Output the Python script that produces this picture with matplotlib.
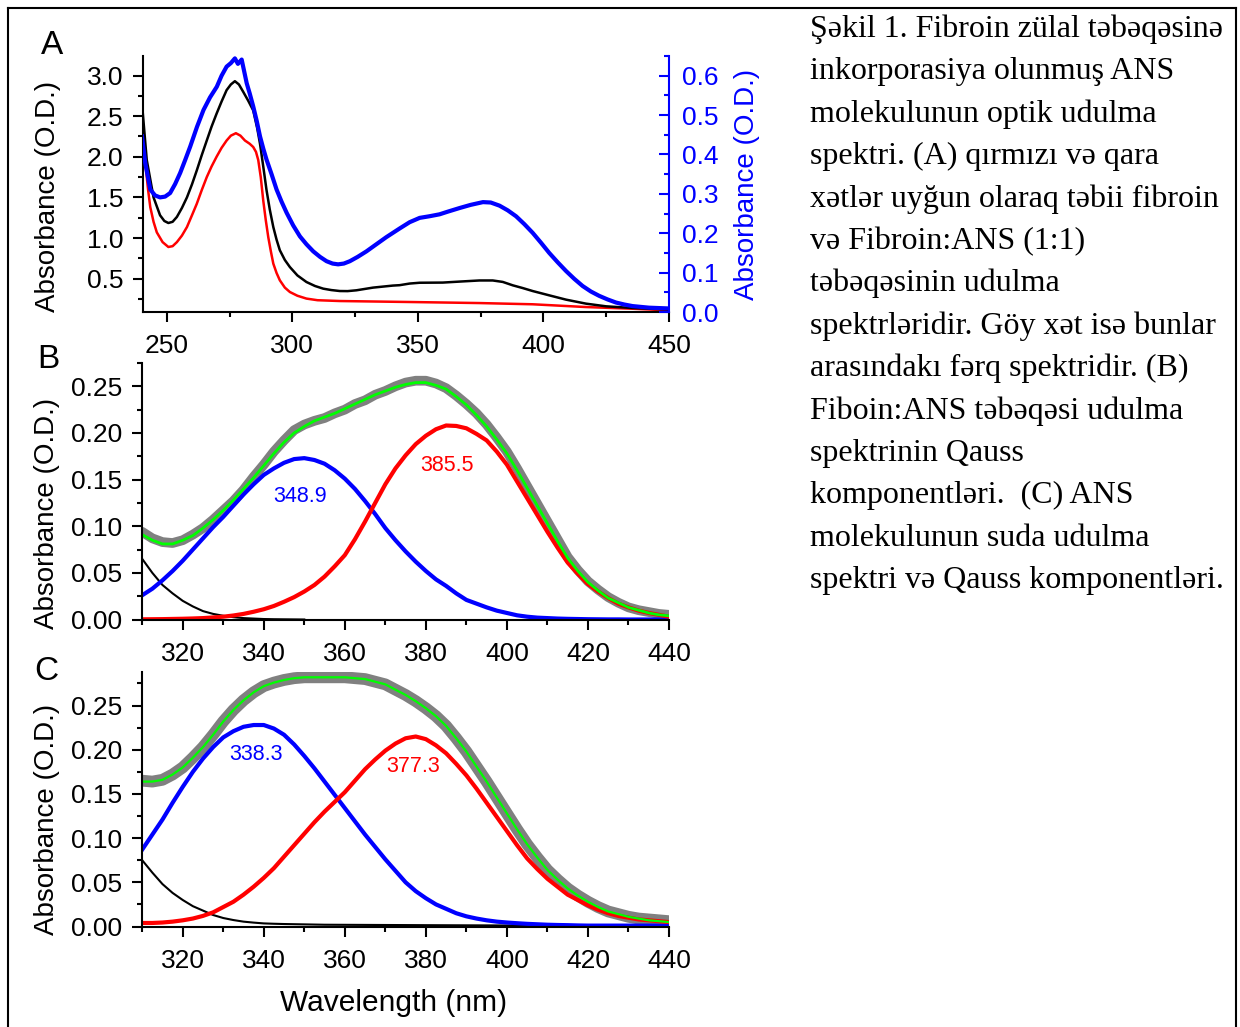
import numpy as np
import matplotlib
matplotlib.use('Agg')
import matplotlib.pyplot as plt
from matplotlib.lines import Line2D
from matplotlib.ticker import MultipleLocator, FormatStrFormatter

plt.rcParams['font.family'] = ['Liberation Sans', 'DejaVu Sans']

# ---------------- panel A : absorption spectra ----------------
wl_a_black = [240, 242, 244.7, 247.3, 249, 250.6, 252.3, 254, 256, 258, 260, 261.9, 263.9,
              265.9, 267.8, 269.8, 271.8, 273.8, 275.5, 277.1, 278.7, 280.4, 282.4, 284.4,
              286, 287.1, 288.4, 289.7, 291, 292.4, 293.7, 295, 297, 299, 302, 305.6, 309,
              312.3, 315.5, 318.9, 322, 325.5, 332.1, 340, 342.7, 346.7, 350.7, 359.9, 367,
              374.5, 379.8, 383.8, 387.8, 391.7, 395.7, 402.3, 409, 416.9, 424.9, 435.5, 450]
abs_a_black = [2.69, 1.96, 1.50, 1.28, 1.21, 1.185, 1.20, 1.26, 1.37, 1.50, 1.66, 1.83, 2.02,
               2.20, 2.37, 2.53, 2.68, 2.82, 2.89, 2.93, 2.89, 2.80, 2.69, 2.57,
               2.35, 2.16, 1.88, 1.59, 1.35, 1.135, 0.98, 0.85, 0.73, 0.643, 0.54, 0.459, 0.41,
               0.377, 0.36, 0.348, 0.347, 0.357, 0.39, 0.415, 0.42, 0.44, 0.45, 0.452, 0.465,
               0.478, 0.478, 0.46, 0.418, 0.385, 0.348, 0.295, 0.242, 0.193, 0.16, 0.139, 0.12]

wl_a_red = [240, 241.5, 242.5, 243.4, 244.7, 246, 248.3, 250.6, 252.3, 254, 256, 258, 260,
            261.9, 263.9, 265.9, 267.8, 269.8, 271.8, 273.8, 275.5, 277.5, 279.3, 281.1, 283,
            284.4, 285.5, 286.4, 287.4, 288.4, 289.4, 290.4, 291.4, 292.4, 293.7, 295, 297,
            299, 302, 305.6, 310, 318.9, 346.7, 374.5, 395.7, 416.9, 435.5, 450]
abs_a_red = [2.6, 1.9, 1.6, 1.38, 1.2, 1.07, 0.95, 0.89, 0.90, 0.95, 1.03, 1.135, 1.28,
             1.42, 1.59, 1.75, 1.88, 2.0, 2.11, 2.20, 2.26, 2.29, 2.26, 2.20, 2.16,
             2.12, 2.06, 1.96, 1.75, 1.46, 1.22, 1.01, 0.84, 0.685, 0.57, 0.48, 0.39,
             0.336, 0.29, 0.255, 0.235, 0.225, 0.213, 0.2, 0.185, 0.151, 0.13, 0.11]

# difference spectrum (right axis)
wl_a_diff = [240.1, 241.4, 243.4, 245.3, 247.3, 249.3, 251.3, 253.3, 255.3, 257.3, 259.3,
             262, 264.6, 267.2, 269.9, 271.8, 273.8, 275.5, 277.1, 278.3, 279.8, 281.8, 283,
             284.4, 285.8, 287.1, 288.4, 289.7, 291.7, 293.7, 295.7, 297.7, 300.3, 303, 305.6,
             308.3, 311, 313.6, 316, 318.2, 320.5, 322.9, 326, 329.5, 333, 337.4, 342.7,
             346.7, 350.7, 354.5, 358.6, 362, 366.6, 371, 375.9, 379, 382.5, 385.8, 389.1,
             392.4, 395.7, 399, 402.3, 405.7, 409, 412.3, 415.6, 418.9, 422.2, 425.5, 428.9,
             432.2, 435.5, 442, 450]
abs_a_diff = [0.446, 0.378, 0.311, 0.296, 0.291, 0.293, 0.302, 0.325, 0.353, 0.386, 0.42,
              0.47, 0.513, 0.545, 0.572, 0.6, 0.623, 0.632, 0.644, 0.63, 0.641, 0.581, 0.555,
              0.522, 0.485, 0.446, 0.415, 0.387, 0.35, 0.311, 0.28, 0.252, 0.22, 0.192, 0.172,
              0.154, 0.14, 0.129, 0.123, 0.121, 0.123, 0.129, 0.14, 0.154, 0.17, 0.19, 0.212,
              0.228, 0.239, 0.243, 0.248, 0.255, 0.264, 0.272, 0.279, 0.278, 0.27, 0.258, 0.243,
              0.223, 0.201, 0.176, 0.15, 0.126, 0.104, 0.084, 0.066, 0.052, 0.041, 0.032, 0.024,
              0.019, 0.015, 0.011, 0.009]

# ---------------- panels B and C : Gauss components ----------------
wl_bc = np.arange(310, 440.1, 2.5)

b_data = [0.094, 0.087, 0.083, 0.082, 0.085, 0.091, 0.098, 0.107, 0.117, 0.127, 0.139,
          0.153, 0.166, 0.180, 0.192, 0.203, 0.209, 0.213, 0.216, 0.221, 0.225, 0.231,
          0.235, 0.241, 0.245, 0.250, 0.254, 0.256, 0.256, 0.253, 0.248, 0.240, 0.231,
          0.221, 0.209, 0.195, 0.180, 0.162, 0.143, 0.124, 0.105, 0.086, 0.067, 0.053,
          0.041, 0.032, 0.024, 0.018, 0.013, 0.010, 0.008, 0.006, 0.005]
b_fit = [0.091, 0.085, 0.081, 0.081, 0.085, 0.090, 0.098, 0.107, 0.117, 0.128, 0.140,
         0.152, 0.165, 0.178, 0.190, 0.200, 0.207, 0.213, 0.217, 0.221, 0.226, 0.231,
         0.236, 0.241, 0.245, 0.249, 0.252, 0.254, 0.254, 0.251, 0.247, 0.239, 0.230,
         0.219, 0.207, 0.193, 0.178, 0.160, 0.141, 0.122, 0.103, 0.084, 0.066, 0.052,
         0.040, 0.031, 0.023, 0.018, 0.013, 0.010, 0.007, 0.005, 0.004]
b_blue = [0.026, 0.033, 0.042, 0.052, 0.063, 0.075, 0.087, 0.099, 0.110, 0.122, 0.134,
          0.145, 0.155, 0.162, 0.168, 0.172, 0.173, 0.171, 0.167, 0.160, 0.151, 0.140,
          0.127, 0.113, 0.098, 0.085, 0.073, 0.062, 0.052, 0.043, 0.036, 0.028, 0.021,
          0.017, 0.013, 0.0095, 0.007, 0.0045, 0.003, 0.002, 0.0015, 0.001, 0.0007,
          0.0005, 0.0003, 0.0002, 0.0001, 0.0001, 0.0, 0.0, 0.0, 0.0, 0.0]
b_red = [0.0002, 0.0003, 0.0004, 0.0006, 0.0008, 0.0011, 0.0015, 0.0022, 0.003, 0.0043,
         0.006, 0.0083, 0.011, 0.0145, 0.019, 0.024, 0.030, 0.037, 0.046, 0.057, 0.069,
         0.086, 0.105, 0.125, 0.145, 0.162, 0.176, 0.188, 0.197, 0.204, 0.208, 0.2075,
         0.205, 0.199, 0.192, 0.180, 0.166, 0.148, 0.130, 0.112, 0.094, 0.077, 0.061,
         0.049, 0.038, 0.030, 0.023, 0.017, 0.013, 0.0095, 0.007, 0.005, 0.003]
wl_b_black = [310, 312.5, 315, 317.5, 320, 322.5, 325, 327.5, 330, 332.5, 335, 337.5,
              340, 342.5, 345, 347.5, 350]
b_black = [0.065, 0.050, 0.037, 0.028, 0.020, 0.014, 0.009, 0.006, 0.004, 0.0025, 0.0015,
           0.001, 0.0005, 0.0003, 0.0002, 0.0001, 0.0]

c_data = [0.165, 0.164, 0.166, 0.172, 0.180, 0.191, 0.203, 0.217, 0.232, 0.245, 0.256,
          0.265, 0.272, 0.276, 0.279, 0.281, 0.282, 0.282, 0.282, 0.282, 0.282, 0.281,
          0.280, 0.277, 0.274, 0.268, 0.262, 0.255, 0.247, 0.238, 0.227, 0.213, 0.198,
          0.181, 0.164, 0.146, 0.128, 0.110, 0.093, 0.078, 0.064, 0.053, 0.043, 0.035,
          0.028, 0.022, 0.017, 0.014, 0.011, 0.009, 0.008, 0.007, 0.006]
c_fit = [0.164, 0.164, 0.166, 0.172, 0.180, 0.191, 0.203, 0.217, 0.232, 0.245, 0.256,
         0.265, 0.272, 0.276, 0.279, 0.281, 0.282, 0.282, 0.282, 0.282, 0.282, 0.281,
         0.280, 0.277, 0.274, 0.268, 0.262, 0.255, 0.247, 0.238, 0.227, 0.213, 0.198,
         0.181, 0.164, 0.146, 0.128, 0.110, 0.093, 0.078, 0.064, 0.053, 0.043, 0.035,
         0.028, 0.022, 0.017, 0.014, 0.011, 0.009, 0.007, 0.006, 0.005]
c_blue = [0.087, 0.104, 0.121, 0.140, 0.158, 0.175, 0.190, 0.203, 0.214, 0.221, 0.226,
          0.228, 0.228, 0.224, 0.217, 0.206, 0.193, 0.179, 0.164, 0.149, 0.134, 0.119,
          0.104, 0.090, 0.076, 0.063, 0.050, 0.040, 0.032, 0.025, 0.020, 0.015, 0.0115,
          0.009, 0.007, 0.0055, 0.0045, 0.0037, 0.003, 0.0025, 0.002, 0.0017, 0.0015,
          0.0012, 0.001, 0.001, 0.001, 0.001, 0.001, 0.001, 0.001, 0.001, 0.001]
c_red = [0.004, 0.004, 0.0045, 0.0055, 0.007, 0.009, 0.012, 0.016, 0.022, 0.028, 0.036,
         0.045, 0.055, 0.066, 0.079, 0.092, 0.105, 0.118, 0.130, 0.141, 0.152, 0.165,
         0.178, 0.189, 0.199, 0.207, 0.213, 0.215, 0.212, 0.205, 0.196, 0.184, 0.171,
         0.156, 0.140, 0.124, 0.108, 0.092, 0.077, 0.065, 0.054, 0.045, 0.036, 0.030,
         0.024, 0.019, 0.015, 0.012, 0.010, 0.008, 0.007, 0.006, 0.005]
wl_c_black = [310, 312.5, 315, 317.5, 320, 322.5, 325, 327.5, 330, 332.5, 335, 337.5,
              340, 342.5, 345, 347.5, 350, 352.5, 355, 380, 410, 440]
c_black = [0.075, 0.061, 0.048, 0.038, 0.030, 0.023, 0.018, 0.013, 0.0096, 0.0073, 0.0055,
           0.0044, 0.0035, 0.0031, 0.0028, 0.0026, 0.0024, 0.0022, 0.002, 0.0015, 0.001,
           0.001]

b_peaks = ['348.9', '385.5']
c_peaks = ['338.3', '377.3']

caption = ['Şəkil 1. Fibroin zülal təbəqəsinə',
           'inkorporasiya olunmuş ANS',
           'molekulunun optik udulma',
           'spektri. (A) qırmızı və qara',
           'xətlər uyğun olaraq təbii fibroin',
           'və Fibroin:ANS (1:1)',
           'təbəqəsinin udulma',
           'spektrləridir. Göy xət isə bunlar',
           'arasındakı fərq spektridir. (B)',
           'Fiboin:ANS təbəqəsi udulma',
           'spektrinin Qauss',
           'komponentləri.  (C) ANS',
           'molekulunun suda udulma',
           'spektri və Qauss komponentləri.']

# ---------------- figure ----------------
W, H = 1240, 1027
fig = plt.figure(figsize=(W / 100, H / 100), dpi=100)


def box(l, t, r, b):
    return [l / W, 1 - b / H, (r - l) / W, (b - t) / H]


TICK = 19
LAB = 20


def style(ax, xmaj, xmn, ymaj, ymn, yfmt, label_y):
    ax.spines['top'].set_visible(False)
    ax.spines['right'].set_visible(False)
    ax.spines['left'].set_linewidth(1.5)
    ax.spines['bottom'].set_linewidth(1.5)
    ax.xaxis.set_major_locator(MultipleLocator(xmaj))
    ax.xaxis.set_minor_locator(MultipleLocator(xmn))
    ax.yaxis.set_major_locator(MultipleLocator(ymaj))
    ax.yaxis.set_minor_locator(MultipleLocator(ymn))
    ax.yaxis.set_major_formatter(FormatStrFormatter(yfmt))
    ax.tick_params(which='major', direction='out', length=7.5, width=1.5, labelsize=TICK)
    ax.tick_params(which='minor', direction='out', length=3.8, width=1.5)
    ax.tick_params(axis='x', which='major', pad=8.4)
    ax.tick_params(axis='y', which='major', pad=6.7)
    ax.set_ylabel('Absorbance (O.D.)', fontsize=LAB, va='center')
    ax.yaxis.set_label_coords((47.5 - 142.5) / 526.5, label_y)


# ----- A -----
axA = fig.add_axes(box(143, 56, 669, 312))
axA.plot(wl_a_red, abs_a_red, color='red', lw=1.8)
axA.plot(wl_a_black, abs_a_black, color='black', lw=1.8)
axA.set_xlim(240.5, 450)
axA.set_ylim(0.09, 3.24)
style(axA, 50, 25, 0.5, 0.25, '%.1f', 0.45)

axA2 = axA.twinx()
axA2.plot(wl_a_diff, abs_a_diff, color='blue', lw=3)
axA2.set_ylim(0, 0.65)
for s in ('left', 'top', 'bottom'):
    axA2.spines[s].set_visible(False)
axA2.spines['right'].set_color('blue')
axA2.spines['right'].set_linewidth(1.5)
axA2.yaxis.set_major_locator(MultipleLocator(0.1))
axA2.yaxis.set_minor_locator(MultipleLocator(0.05))
axA2.yaxis.set_major_formatter(FormatStrFormatter('%.1f'))
axA2.tick_params(which='major', direction='in', length=7.5, width=1.5, colors='blue',
                 labelsize=TICK, pad=9.5)
axA2.tick_params(which='minor', direction='in', length=3.8, width=1.5, colors='blue')
axA2.set_ylabel('Absorbance (O.D.)', fontsize=LAB, color='blue', va='center')
axA2.yaxis.set_label_coords((747 - 143) / 526, 0.5)

# ----- B -----
axB = fig.add_axes(box(142.2, 363, 669, 619.5))
axB.plot(wl_bc, b_data, color='#808080', lw=7, solid_capstyle='round')
axB.plot(wl_b_black, b_black, color='black', lw=1.5)
axB.plot(wl_bc, b_blue, color='blue', lw=3)
axB.plot(wl_bc, b_red, color='red', lw=3)
axB.plot(wl_bc, b_fit, color='#00ff00', lw=2)
axB.text(349.0, 0.1314, b_peaks[0], color='blue', fontsize=15.5, ha='center', va='center')
axB.text(385.3, 0.1647, b_peaks[1], color='red', fontsize=15.5, ha='center', va='center')
axB.set_xlim(310, 440)
axB.set_ylim(0, 0.275)
style(axB, 20, 10, 0.05, 0.025, '%.2f', 0.415)

# ----- C -----
axC = fig.add_axes(box(142.2, 672, 669, 926.5))
axC.plot(wl_bc, c_data, color='#808080', lw=8.5, solid_capstyle='round')
axC.plot(wl_c_black, c_black, color='black', lw=1.5)
axC.plot(wl_bc, c_blue, color='blue', lw=3)
axC.plot(wl_bc, c_red, color='red', lw=3)
axC.plot(wl_bc, c_fit, color='#00ff00', lw=1.6)
axC.text(338.1, 0.1944, c_peaks[0], color='blue', fontsize=15.5, ha='center', va='center')
axC.text(376.9, 0.181, c_peaks[1], color='red', fontsize=15.5, ha='center', va='center')
axC.set_xlim(310, 440)
axC.set_ylim(0, 0.288)
style(axC, 20, 10, 0.05, 0.025, '%.2f', 0.42)
axC.set_xlabel('Wavelength (nm)', fontsize=21.5, va='center')
axC.xaxis.set_label_coords((394 - 142.2) / 526.8, -(1003 - 926.5) / 254.5)

# panel letters
for letter, (px, py) in zip(['A', 'B', 'C'], [(52, 45), (48, 360), (46, 672)]):
    fig.text(px / W, 1 - py / H, letter, fontsize=24, ha='center', va='center')

# caption on the right
for i, line in enumerate(caption):
    fig.text(810 / W, 1 - (37 + i * 42.4) / H, line, fontsize=23,
             family=['Liberation Serif', 'DejaVu Serif'], ha='left', va='baseline')

# frame
for xs, ys in [([8, 8], [8, H + 5]), ([8, 1236], [8, 8]), ([1236, 1236], [8, H + 5])]:
    fig.add_artist(Line2D([x / W for x in xs], [1 - y / H for y in ys],
                          transform=fig.transFigure, color='black', lw=1.5))

fig.savefig('out.png', dpi=100)
